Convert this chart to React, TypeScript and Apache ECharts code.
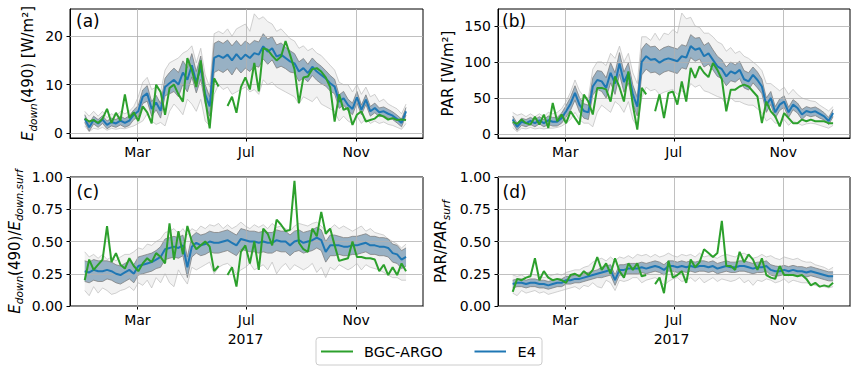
import React, { useEffect, useRef } from "react";
import * as echarts from "echarts";

// ---------- data ----------
const DAYS = [0,5,10,15,20,25,30,35,40,45,50,55,60,65,70,75,80,85,90,95,100,105,110,115,120,125,130,135,140,145,150,155,160,165,170,175,180,185,190,195,200,205,210,215,220,225,230,235,240,245,250,255,260,265,270,275,280,285,290,295,300,305,310,315,320,325,330,335,340,345,350,355,360];
const TICK_DAYS = [59, 181, 304];
const TICK_NAMES = ["Mar", "Jul", "Nov"];
const YEAR_LABEL = "2017";
const LEGEND_NAMES = ["BGC-ARGO", "E4"];

const A_YTICKS = [0, 10, 20];
const B_YTICKS = [0, 50, 100, 150];
const C_YTICKS = [0, 0.25, 0.5, 0.75, 1];
const D_YTICKS = [0, 0.25, 0.5, 0.75, 1];

const A_GREEN = [3.0,2.4,2.7,2.1,3.0,5.0,2.1,4.2,2.6,8.0,
3.1,4.3,2.5,5.5,4.3,2.0,10.0,8.5,3.8,9.3,
10.0,8.0,6.5,15.5,13.0,9.5,15.0,7.0,1.0,11.3,
9.6,null,5.6,7.5,4.2,9.5,11.5,9.0,14.5,8.6,
17.5,17.2,16.0,15.0,15.8,19.0,16.2,13.2,6.2,11.5,
11.7,13.2,13.4,12.7,11.5,9.5,2.4,8.0,4.8,5.2,
1.7,3.8,4.5,2.4,2.7,3.0,3.8,3.4,2.8,3.1,
2.7,2.8,2.7];
const A_MEAN = [3.0,1.2,2.7,2.0,2.8,1.7,2.3,2.0,2.6,2.1,
2.6,3.8,4.5,7.5,8.2,5.0,6.3,4.6,9.5,10.3,
11.0,10.0,12.5,11.0,14.0,10.5,13.5,8.0,5.5,15.5,
16.0,15.5,16.2,15.0,16.3,15.2,16.2,15.5,16.5,16.2,
17.9,16.8,17.5,15.8,16.2,15.5,14.8,14.4,12.7,13.4,
12.4,13.7,12.7,12.0,11.3,10.3,9.6,6.5,7.2,5.8,
5.0,7.4,4.8,6.9,4.5,5.2,4.3,4.5,4.0,3.6,
2.9,2.1,4.5];
const A_HW = [0.8,0.8,0.8,0.8,0.8,0.8,0.8,0.8,0.9,0.9,
1.0,1.0,1.2,1.4,1.6,1.5,1.5,1.5,1.8,2.2,
2.4,2.5,2.4,2.5,2.4,2.2,2.4,2.0,2.0,3.0,
3.0,3.0,3.0,3.0,2.8,2.8,2.8,2.8,2.6,2.6,
2.6,2.6,2.4,2.4,2.4,2.2,2.2,2.0,2.0,2.0,
1.8,1.8,1.8,1.8,1.6,1.6,1.5,1.4,1.4,1.2,
1.2,1.2,1.0,1.0,1.0,1.0,0.9,0.9,0.9,0.8,
0.8,0.8,0.8];
const A_LO = [1.5,0.3,1.0,0.8,1.2,0.6,1.0,0.8,1.0,0.9,
1.2,1.5,2.0,2.5,4.0,2.5,1.8,2.2,1.5,4.5,
6.0,5.0,3.8,7.0,6.0,4.5,7.0,2.5,1.5,8.0,
10.0,9.0,9.5,8.0,8.5,9.0,9.5,8.5,9.0,8.0,
11.0,10.0,10.5,9.5,9.0,8.5,8.0,7.5,6.0,7.5,
7.0,6.5,7.5,6.0,5.5,5.0,4.5,2.5,3.5,2.5,
2.0,3.5,2.0,3.0,2.0,2.5,2.0,2.3,1.8,1.6,
1.2,0.8,2.0];
const A_HI = [4.5,3.5,4.5,3.5,4.5,3.2,4.0,3.5,4.5,4.0,
4.5,5.5,7.5,10.5,11.5,9.0,9.5,8.5,13.0,14.5,
15.0,15.5,16.5,17.0,18.0,14.5,17.5,12.0,9.5,20.5,
21.0,20.5,21.5,20.0,21.5,22.0,22.5,21.0,24.6,23.5,
24.0,23.0,22.5,21.0,21.5,20.5,19.5,19.0,17.5,18.0,
17.0,17.5,16.5,16.0,15.0,14.0,13.0,10.5,10.0,10.0,
8.5,10.0,8.0,9.5,7.5,8.0,6.5,7.0,6.0,5.5,
5.0,4.0,6.0];

const B_GREEN = [16.7,14,20,15,13,24,13,27,8.3,43,
17.6,27,15,31.5,22,13,54.6,45,27,64,
64,62,45,80,65,45,87,40,6,64,
55,null,31.5,55,22,57,59,40.7,73,45,
91.7,78,94,85,79,98.6,89,76,31.5,61.6,
61.6,66,68.5,66,59,52,15,45,31.5,24.5,
10.6,29,22,15,15,20,17.6,20,17.6,17.6,
17.6,15,15];
const B_MEAN = [20,10,17,15,18,15,19,15,19,17,
17,22,31.5,42,57,40.7,32,30,66,75,
73,64,85,70,98,72,85,55,38,100,
108,103,104,99,103,105,103,101,108,106,
122,117,119,108,112,103,94,90,80,87,
84,89,76,73,82,75,66,40,50,30,
40.7,45,30,40.7,36,27,32,30,31.5,28,
24.5,18,29];
const B_HW = [5,5,5,5,5,5,5,5,6,6,
6,7,8,9,10,10,10,10,12,13,
14,14,14,15,15,14,14,13,13,18,
18,18,18,17,17,17,17,17,16,16,
16,16,15,15,15,14,14,13,13,13,
12,12,12,12,11,11,10,10,9,8,
8,8,7,7,7,7,6,6,6,6,
5,5,5];
const B_LO = [9,3,8,7,9,7,8,7,8,8,
9,11,15,20,30,20,15,15,10,30,
40,35,30,45,40,30,45,20,10,50,
65,60,62,55,58,60,62,55,60,55,
70,65,68,60,58,55,52,50,40,50,
45,45,42,40,40,35,30,18,22,15,
15,20,12,18,15,12,14,15,14,12,
10,8,12];
const B_HI = [30,26,28,24,28,24,28,24,30,28,
30,35,45,58,75,60,52,50,90,100,
100,95,112,105,122,100,112,85,70,135,
135,130,140,130,140,138,145,140,168,160,
162,150,148,140,140,135,128,125,115,120,
112,115,108,105,100,95,88,70,70,65,
60,65,55,62,55,50,48,46,45,40,
36,32,38];

const C_GREEN = [0.20,0.36,0.28,0.32,0.36,0.62,0.34,0.41,0.32,0.29,
0.37,0.31,0.27,0.33,0.37,0.34,0.41,0.38,0.33,0.64,
0.36,0.58,0.40,0.62,0.50,0.44,0.47,0.50,0.46,0.27,
0.31,null,0.24,0.30,0.15,0.42,0.47,0.33,0.50,0.28,
0.60,0.56,0.47,0.67,0.63,0.58,0.59,0.97,0.49,0.44,
0.42,0.60,0.54,0.73,0.56,0.60,0.47,0.35,0.36,0.37,
0.50,0.38,0.38,0.37,0.37,0.36,0.27,0.32,0.24,0.30,
0.24,0.33,0.27];
const C_MEAN = [0.27,0.26,0.28,0.27,0.27,0.28,0.27,0.25,0.24,0.26,
0.28,0.25,0.31,0.32,0.33,0.34,0.36,0.38,0.44,0.45,
0.46,0.45,0.47,0.30,0.46,0.49,0.47,0.48,0.50,0.49,
0.49,0.50,0.51,0.49,0.47,0.52,0.51,0.50,0.50,0.49,
0.50,0.49,0.49,0.51,0.50,0.50,0.47,0.50,0.51,0.49,
0.50,0.51,0.53,0.51,0.42,0.47,0.47,0.47,0.46,0.46,
0.47,0.47,0.48,0.49,0.47,0.47,0.46,0.46,0.45,0.41,
0.40,0.36,0.38];
const C_HW = [0.08,0.08,0.08,0.08,0.08,0.07,0.07,0.07,0.07,0.07,
0.07,0.07,0.07,0.07,0.07,0.07,0.07,0.08,0.08,0.08,
0.08,0.08,0.08,0.08,0.08,0.08,0.08,0.08,0.08,0.08,
0.08,0.08,0.08,0.08,0.08,0.08,0.08,0.08,0.08,0.08,
0.08,0.08,0.08,0.08,0.08,0.08,0.08,0.08,0.08,0.08,
0.08,0.08,0.08,0.08,0.08,0.08,0.08,0.07,0.07,0.07,
0.07,0.07,0.07,0.07,0.07,0.07,0.07,0.07,0.07,0.07,
0.07,0.07,0.07];
const C_LO = [0.12,0.08,0.15,0.10,0.14,0.12,0.09,0.10,0.12,0.13,
0.15,0.12,0.18,0.16,0.20,0.14,0.22,0.18,0.25,0.18,
0.15,0.28,0.22,0.17,0.30,0.28,0.30,0.32,0.34,0.25,
0.30,0.32,0.33,0.30,0.25,0.28,0.30,0.33,0.28,0.30,
0.32,0.28,0.34,0.25,0.30,0.33,0.28,0.32,0.30,0.28,
0.30,0.33,0.26,0.30,0.22,0.30,0.28,0.32,0.30,0.28,
0.30,0.33,0.28,0.32,0.30,0.29,0.28,0.26,0.24,0.22,
0.22,0.20,0.20];
const C_HI = [0.42,0.38,0.40,0.37,0.40,0.36,0.38,0.35,0.38,0.40,
0.40,0.42,0.45,0.44,0.48,0.47,0.50,0.52,0.57,0.58,
0.60,0.56,0.60,0.55,0.60,0.58,0.62,0.60,0.63,0.62,
0.64,0.60,0.63,0.60,0.62,0.65,0.62,0.60,0.63,0.61,
0.63,0.60,0.64,0.61,0.62,0.60,0.58,0.62,0.64,0.63,
0.62,0.64,0.65,0.62,0.58,0.60,0.63,0.60,0.62,0.60,
0.58,0.60,0.62,0.58,0.60,0.57,0.56,0.55,0.52,0.50,
0.48,0.45,0.48];

const D_GREEN = [0.11,0.21,0.20,0.22,0.23,0.37,0.20,0.27,0.22,0.20,
0.21,0.20,0.18,0.24,0.25,0.23,0.27,0.24,0.28,0.38,
0.28,0.33,0.25,0.37,0.27,0.22,0.33,0.28,0.33,0.23,
0.24,null,0.17,0.22,0.10,0.35,0.22,0.24,0.27,0.18,
0.36,0.30,0.34,0.44,0.41,0.38,0.41,0.66,0.31,0.31,
0.28,0.42,0.34,0.40,0.36,0.28,0.37,0.24,0.22,0.21,
0.31,0.24,0.24,0.24,0.23,0.24,0.21,0.16,0.18,0.15,
0.16,0.15,0.18];
const D_MEAN = [0.17,0.18,0.18,0.17,0.18,0.18,0.17,0.17,0.16,0.17,
0.18,0.18,0.20,0.20,0.21,0.21,0.22,0.23,0.24,0.25,
0.26,0.27,0.28,0.20,0.28,0.28,0.29,0.29,0.29,0.30,
0.29,0.30,0.31,0.30,0.28,0.31,0.31,0.30,0.31,0.30,
0.31,0.30,0.31,0.31,0.30,0.31,0.29,0.30,0.31,0.30,
0.30,0.31,0.31,0.30,0.29,0.30,0.30,0.31,0.28,0.27,
0.27,0.28,0.27,0.28,0.27,0.27,0.26,0.27,0.26,0.25,
0.24,0.23,0.23];
const D_HW = [0.03,0.03,0.03,0.03,0.03,0.03,0.03,0.03,0.03,0.03,
0.03,0.03,0.03,0.03,0.03,0.03,0.03,0.03,0.03,0.03,
0.04,0.04,0.04,0.04,0.04,0.04,0.04,0.04,0.04,0.04,
0.04,0.04,0.04,0.04,0.04,0.04,0.04,0.04,0.04,0.04,
0.04,0.04,0.04,0.04,0.04,0.04,0.04,0.04,0.04,0.04,
0.04,0.04,0.04,0.04,0.04,0.04,0.04,0.04,0.04,0.04,
0.035,0.035,0.035,0.035,0.035,0.035,0.035,0.035,0.035,0.035,
0.035,0.035,0.035];
const D_LO = [0.10,0.08,0.12,0.10,0.11,0.12,0.10,0.11,0.09,0.10,
0.11,0.12,0.13,0.14,0.15,0.13,0.16,0.15,0.18,0.15,
0.14,0.20,0.18,0.12,0.20,0.19,0.20,0.22,0.22,0.18,
0.20,0.21,0.22,0.20,0.16,0.19,0.21,0.22,0.19,0.20,
0.22,0.19,0.22,0.18,0.20,0.22,0.19,0.21,0.20,0.19,
0.20,0.22,0.18,0.20,0.16,0.20,0.19,0.21,0.20,0.18,
0.19,0.21,0.18,0.20,0.19,0.18,0.18,0.17,0.16,0.15,
0.15,0.14,0.15];
const D_HI = [0.24,0.23,0.24,0.22,0.25,0.24,0.23,0.22,0.23,0.24,
0.25,0.24,0.26,0.27,0.28,0.28,0.30,0.31,0.34,0.36,
0.37,0.35,0.38,0.35,0.38,0.37,0.39,0.37,0.40,0.39,
0.40,0.38,0.40,0.38,0.39,0.41,0.39,0.38,0.40,0.39,
0.40,0.38,0.41,0.38,0.39,0.38,0.37,0.39,0.40,0.39,
0.38,0.40,0.41,0.39,0.37,0.38,0.40,0.38,0.39,0.37,
0.36,0.38,0.37,0.36,0.37,0.35,0.34,0.34,0.32,0.31,
0.30,0.28,0.30];

// ---------- styling ----------
const FONT = "DejaVu Sans";
const GREEN = "#2ca02c";
const BLUE = "#1f77b4";
const GRID_COLOR = "#b0b0b0";

type Panel = {
  left: number; top: number; width: number; height: number;
  ymin: number; ymax: number; yticks: number[]; decimals: number;
  green: (number | null)[]; mean: number[]; hw: number[]; lo: number[]; hi: number[];
};

const PANELS: Panel[] = [
  { left: 70, top: 9, width: 353, height: 129, ymin: -1.0, ymax: 25.6, yticks: A_YTICKS, decimals: 0, green: A_GREEN, mean: A_MEAN, hw: A_HW, lo: A_LO, hi: A_HI },
  { left: 498, top: 9, width: 352, height: 129, ymin: -5.6, ymax: 173.6, yticks: B_YTICKS, decimals: 0, green: B_GREEN, mean: B_MEAN, hw: B_HW, lo: B_LO, hi: B_HI },
  { left: 70, top: 177, width: 353, height: 129, ymin: 0, ymax: 1, yticks: C_YTICKS, decimals: 2, green: C_GREEN, mean: C_MEAN, hw: C_HW, lo: C_LO, hi: C_HI },
  { left: 498, top: 177, width: 352, height: 129, ymin: 0, ymax: 1, yticks: D_YTICKS, decimals: 2, green: D_GREEN, mean: D_MEAN, hw: D_HW, lo: D_LO, hi: D_HI },
];

const XMIN = -16.5;
const XMAX = 379;

function pts(vals: (number | null)[]) {
  return DAYS.map((d, k) => [d, vals[k]]);
}

function bandSeries(i: number, lo: number[], hi: number[], fill: string, z: number) {
  return {
    type: "custom", xAxisIndex: i, yAxisIndex: i, silent: true, z, animation: false,
    data: [[DAYS[0], lo[0]]],
    renderItem: (_params: any, api: any) => {
      const top = DAYS.map((d, k) => api.coord([d, hi[k]]));
      const bot = DAYS.map((d, k) => api.coord([d, lo[k]])).reverse();
      return { type: "polygon", shape: { points: top.concat(bot) }, style: { fill, stroke: "none" } };
    },
  };
}

function panelSeries(i: number, p: Panel) {
  const common = { type: "line", xAxisIndex: i, yAxisIndex: i, symbol: "none", showSymbol: false, silent: true, animation: false };
  const bLo = p.mean.map((m, k) => m - p.hw[k]);
  const bHi = p.mean.map((m, k) => m + p.hw[k]);
  return [
    {
      ...common, data: pts(p.lo), lineStyle: { color: "#bdbdbd", width: 0.7 }, z: 2,
      markLine: {
        silent: true, animation: false, symbol: ["none", "none"], label: { show: false },
        lineStyle: { color: GRID_COLOR, width: 0.8, type: "solid" },
        data: [...TICK_DAYS.map((d) => ({ xAxis: d })), ...p.yticks.map((v) => ({ yAxis: v }))],
      },
    },
    { ...common, data: pts(p.hi), lineStyle: { color: "#bdbdbd", width: 0.7 }, z: 2 },
    bandSeries(i, p.lo, p.hi, "rgba(150,150,150,0.12)", 1),
    bandSeries(i, bLo, bHi, "#98b1c4", 3),
    { ...common, data: pts(bLo), lineStyle: { color: "#808080", width: 0.8 }, z: 4 },
    { ...common, data: pts(bHi), lineStyle: { color: "#808080", width: 0.8 }, z: 4 },
    { ...common, data: pts(p.mean), lineStyle: { color: BLUE, width: 2 }, z: 5 },
    { ...common, data: pts(p.green), lineStyle: { color: GREEN, width: 2 }, connectNulls: false, z: 6 },
  ];
}

const mainTok = { fontFamily: FONT, fontSize: 15, fill: "#000", lineHeight: 20, verticalAlign: "middle" };
const italTok = { ...mainTok, fontStyle: "italic" };
const subTok = { fontFamily: FONT, fontSize: 10.5, fontStyle: "italic", fill: "#000", lineHeight: 13, verticalAlign: "bottom" };

function yLabel(x: number, y: number, text: string) {
  return {
    type: "text", x, y, rotation: Math.PI / 2, silent: true, z: 100,
    style: { text, align: "center", verticalAlign: "middle", fontFamily: FONT, fontSize: 15, fill: "#000", rich: { n: mainTok, i: italTok, s: subTok } },
  };
}

function plainText(x: number, y: number, text: string, size: number, align = "left") {
  return { type: "text", x, y, silent: true, z: 100, style: { text, align, verticalAlign: "middle", fontFamily: FONT, fontSize: size, fill: "#000" } };
}

export default function App() {
  const ref = useRef<HTMLDivElement>(null);
  useEffect(() => {
    if (!ref.current) return;
    const chart = echarts.init(ref.current, undefined, { renderer: "svg" });
    const option: any = {
      animation: false,
      backgroundColor: "#ffffff",
      grid: PANELS.map((p) => ({ left: p.left, top: p.top, width: p.width, height: p.height, show: true, borderColor: "#000", borderWidth: 1, backgroundColor: "transparent" })),
      xAxis: PANELS.map((p, i) => ({
        type: "value", gridIndex: i, min: XMIN, max: XMAX,
        axisLine: { show: true, onZero: false, lineStyle: { color: "#000", width: 1 } },
        axisTick: { show: true, inside: false, length: 3.5, lineStyle: { color: "#000", width: 1 }, customValues: TICK_DAYS },
        axisLabel: { show: true, customValues: TICK_DAYS, formatter: (v: number) => TICK_NAMES[TICK_DAYS.indexOf(v)] ?? "", color: "#000", fontFamily: FONT, fontSize: 14, lineHeight: 16, margin: 6 },
        splitLine: { show: false },
      })),
      yAxis: PANELS.map((p, i) => ({
        type: "value", gridIndex: i, min: p.ymin, max: p.ymax,
        axisLine: { show: true, onZero: false, lineStyle: { color: "#000", width: 1 } },
        axisTick: { show: true, inside: false, length: 3.5, lineStyle: { color: "#000", width: 1 }, customValues: p.yticks },
        axisLabel: { show: true, customValues: p.yticks, formatter: (v: number) => v.toFixed(p.decimals), color: "#000", fontFamily: FONT, fontSize: 14, margin: 7 },
        splitLine: { show: false },
      })),
      series: PANELS.flatMap((p, i) => panelSeries(i, p)),
      graphic: [
        plainText(76, 20.5, "(a)", 17),
        plainText(502, 20.5, "(b)", 17),
        plainText(76.5, 191.5, "(c)", 17),
        plainText(502.5, 191.5, "(d)", 17),
        yLabel(28, 73.5, "{i|E}{s|down}{n|(490) [W/m²]}"),
        yLabel(448, 73.5, "{n|PAR [W/m²]}"),
        yLabel(14.5, 241.5, "{i|E}{s|down}{n|(490)/}{i|E}{s|down.surf}"),
        yLabel(441, 241.5, "{n|PAR/}{i|PAR}{s|surf}"),
        plainText(245.5, 339, YEAR_LABEL, 14, "center"),
        plainText(671.5, 339, YEAR_LABEL, 14, "center"),
        { type: "rect", silent: true, z: 100, shape: { x: 316, y: 337.5, width: 226, height: 27.5, r: 3 }, style: { fill: "#fff", stroke: "#cccccc", lineWidth: 1 } },
        { type: "line", silent: true, z: 101, shape: { x1: 321, y1: 351.5, x2: 353, y2: 351.5 }, style: { stroke: GREEN, lineWidth: 2 } },
        plainText(364, 351.5, LEGEND_NAMES[0], 14.5),
        { type: "line", silent: true, z: 101, shape: { x1: 474.5, y1: 351.5, x2: 506, y2: 351.5 }, style: { stroke: BLUE, lineWidth: 2 } },
        plainText(517.5, 351.5, LEGEND_NAMES[1], 14.5),
      ],
    };
    chart.setOption(option);
    return () => chart.dispose();
  }, []);
  return <div ref={ref} style={{ position: "fixed", left: 0, top: 0, width: 859, height: 374 }} />;
}
